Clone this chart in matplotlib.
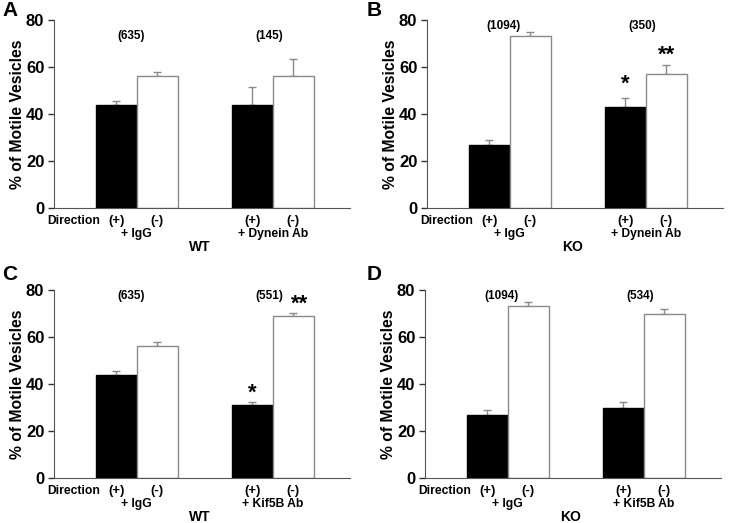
import matplotlib
matplotlib.use('Agg')
import matplotlib.pyplot as plt

plt.rcParams['font.family'] = ['Liberation Sans', 'DejaVu Sans']
plt.rcParams['font.weight'] = 'bold'

# panel data: (+) IgG, (-) IgG, (+) Ab, (-) Ab
panel_letters = ['A', 'B', 'C', 'D']
genotypes = ['WT', 'KO', 'WT', 'KO']
antibodies = ['+ Dynein Ab', '+ Dynein Ab', '+ Kif5B Ab', '+ Kif5B Ab']
counts = [('(635)', '(145)'), ('(1094)', '(350)'), ('(635)', '(551)'), ('(1094)', '(534)')]
values_A = [44, 56, 44, 56]
errors_A = [1.5, 1.7, 7.6, 7.6]
values_B = [27, 73, 43, 57]
errors_B = [2.0, 1.8, 4.0, 4.0]
values_C = [44, 56, 31, 69]
errors_C = [1.5, 1.7, 1.3, 1.2]
values_D = [27, 73, 30, 70]
errors_D = [2.0, 1.8, 2.4, 2.1]
stars = [[], [(2, '*', 52.5), (3, '**', 65)], [(2, '*', 36), (3, '**', 74)], []]

all_values = [values_A, values_B, values_C, values_D]
all_errors = [errors_A, errors_B, errors_C, errors_D]

fig = plt.figure(figsize=(7.31, 5.23), dpi=100)

# axes boxes in pixel coords: left, top, right, bottom
boxes = [(54, 20, 350, 208), (427, 20, 723, 208), (54, 290, 350, 478), (425, 290, 721, 478)]
letter_pos = [(2, 11), (367, 11), (2, 275), (367, 275)]
W, H = 731.0, 523.0

xpos = [1.52, 2.52, 4.84, 5.84]
group_centers = [2.02, 5.34]

for i in range(4):
    l, t, r, b = boxes[i]
    ax = fig.add_axes([l / W, 1 - b / H, (r - l) / W, (b - t) / H])
    vals = all_values[i]
    errs = all_errors[i]
    colors = ['black', 'white', 'black', 'white']
    edges = ['black', '#8a8a8a', 'black', '#8a8a8a']
    ax.bar(xpos, vals, width=1.0, color=colors, edgecolor=edges, linewidth=1.0, zorder=2)
    ax.errorbar(xpos, vals, yerr=[[0] * 4, errs], fmt='none', ecolor='#8a8a8a',
                elinewidth=1.0, capsize=3, capthick=1.0, zorder=1)

    ax.set_xlim(0, 7.22)
    ax.set_ylim(0, 80)
    ax.set_yticks([0, 20, 40, 60, 80])
    ax.set_xticks([])
    ax.tick_params(axis='y', direction='out', length=4, width=1, colors='#333333',
                   labelsize=12, labelcolor='black', pad=3)
    for lab in ax.get_yticklabels():
        lab.set_fontweight('bold')
    ax.spines['top'].set_visible(False)
    ax.spines['right'].set_visible(False)
    ax.spines['left'].set_color('#555555')
    ax.spines['bottom'].set_color('#555555')
    ax.set_ylabel('% of Motile Vesicles', fontsize=11.3, fontweight='bold', labelpad=1)

    # n counts
    ytxt = 73 if i == 0 else 77.5
    ax.text(group_centers[0] - 0.15, ytxt, counts[i][0], ha='center', va='center',
            fontsize=8.5, fontweight='bold')
    ax.text(group_centers[1] - 0.1, ytxt, counts[i][1], ha='center', va='center',
            fontsize=8.5, fontweight='bold')

    for idx, s, y in stars[i]:
        ax.text(xpos[idx] + (0.15 if (i == 2 and idx == 3) else 0), y, s, ha='center',
                va='center', fontsize=16, fontweight='bold')

    # labels below axis
    trans = ax.get_xaxis_transform()
    ax.text(1.12, -0.068, 'Direction', transform=trans, ha='right', va='center',
            fontsize=8.7, fontweight='bold')
    for x, s in zip(xpos, ['(+)', '(-)', '(+)', '(-)']):
        ax.text(x, -0.068, s, transform=trans, ha='center', va='center',
                fontsize=9.5, fontweight='bold')
    ax.text(group_centers[0], -0.138, '+ IgG', transform=trans, ha='center', va='center',
            fontsize=8.7, fontweight='bold')
    ax.text(group_centers[1], -0.138, antibodies[i], transform=trans, ha='center',
            va='center', fontsize=8.7, fontweight='bold')
    ax.text(3.55, -0.205, genotypes[i], transform=trans, ha='center', va='center',
            fontsize=10, fontweight='bold')

    # panel letter
    lx, ly = letter_pos[i]
    fig.text(lx / W, 1 - ly / H, panel_letters[i], ha='left', va='center',
             fontsize=15, fontweight='bold')

fig.savefig('out.png', dpi=100)
